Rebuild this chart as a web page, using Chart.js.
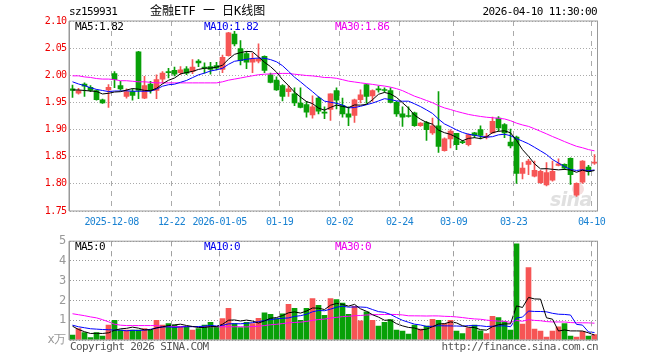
<!DOCTYPE html>
<html lang="zh">
<head>
<meta charset="UTF-8">
<title>金融ETF 日K线图</title>
<script src="https://cdn.jsdelivr.net/npm/chart.js@4.4.1/dist/chart.umd.min.js"></script>
<style>
    body { margin: 0; background: #fff; }
    #wrap { position: relative; width: 660px; height: 360px; background: #fff;
            font-family: 'DejaVu Sans Mono', monospace; font-size: 11px; letter-spacing: -0.6px; }
    .box { position: absolute; left: 0; width: 660px; }
    .txt { position: absolute; line-height: 12px; white-space: pre; }
</style>
</head>
<body>
<div id="wrap">
    <div class="box" style="top:0;height:230px"><canvas id="kline" width="660" height="230"></canvas></div>
    <div class="box" style="top:230px;height:130px"><canvas id="vol" width="660" height="130"></canvas></div>

    <div class="txt" style="left:69px;top:6px">sz159931</div>
    <div class="txt" id="title" style="left:150px;top:5px;font-family:'DejaVu Sans Mono','Noto Sans CJK SC';font-size:12px;letter-spacing:0"></div>
    <div class="txt" id="stamp" style="right:63px;top:6px"></div>

    <div class="txt" id="ma5t" style="left:75px;top:21px;color:#000"></div>
    <div class="txt" id="ma10t" style="left:204px;top:21px;color:#0000ee"></div>
    <div class="txt" id="ma30t" style="left:335px;top:21px;color:#ee00ee"></div>

    <div class="txt" id="vma5t" style="left:75px;top:241px;color:#000"></div>
    <div class="txt" id="vma10t" style="left:204px;top:241px;color:#0000ee"></div>
    <div class="txt" id="vma30t" style="left:335px;top:241px;color:#ee00ee"></div>

    <div class="txt" style="left:70px;top:341px;color:#555">Copyright 2026 SINA.COM</div>
    <div class="txt" style="right:62px;top:341px;color:#555">http://finance.sina.com.cn</div>
</div>

<script>
// ---- data ----
const dates = [
    '2025-11-27', '2025-11-28',
    '2025-12-01', '2025-12-02', '2025-12-03', '2025-12-04', '2025-12-05',
    '2025-12-08', '2025-12-09', '2025-12-10', '2025-12-11', '2025-12-12',
    '2025-12-15', '2025-12-16', '2025-12-17', '2025-12-18', '2025-12-19',
    '2025-12-22', '2025-12-23', '2025-12-24', '2025-12-25', '2025-12-26',
    '2025-12-29', '2025-12-30', '2025-12-31',
    '2026-01-05', '2026-01-06', '2026-01-07', '2026-01-08', '2026-01-09',
    '2026-01-12', '2026-01-13', '2026-01-14', '2026-01-15', '2026-01-16',
    '2026-01-19', '2026-01-20', '2026-01-21', '2026-01-22', '2026-01-23',
    '2026-01-26', '2026-01-27', '2026-01-28', '2026-01-29', '2026-01-30',
    '2026-02-02', '2026-02-03', '2026-02-04', '2026-02-05', '2026-02-06',
    '2026-02-09', '2026-02-10', '2026-02-11', '2026-02-12', '2026-02-13',
    '2026-02-24', '2026-02-25', '2026-02-26', '2026-02-27',
    '2026-03-02', '2026-03-03', '2026-03-04', '2026-03-05', '2026-03-06',
    '2026-03-09', '2026-03-10', '2026-03-11', '2026-03-12', '2026-03-13',
    '2026-03-16', '2026-03-17', '2026-03-18', '2026-03-19', '2026-03-20',
    '2026-03-23', '2026-03-24', '2026-03-25', '2026-03-26', '2026-03-27',
    '2026-03-30', '2026-03-31',
    '2026-04-01', '2026-04-02', '2026-04-03', '2026-04-07', '2026-04-08', '2026-04-09', '2026-04-10'
];

const open = [
    1.975, 1.967, 1.984, 1.978, 1.972, 1.955, 1.973, 2.003, 1.981, 1.961,
    1.970, 2.043, 1.958, 1.984, 1.972, 1.993, 2.007, 2.009, 2.005, 2.012,
    2.007, 2.026, 2.015, 2.016, 2.018, 2.011, 2.036, 2.076, 2.049, 2.040,
    2.024, 2.026, 2.035, 2.001, 1.991, 1.981, 1.970, 1.966, 1.949, 1.946,
    1.927, 1.958, 1.932, 1.937, 1.972, 1.944, 1.929, 1.926, 1.955, 1.983,
    1.962, 1.975, 1.973, 1.972, 1.950, 1.929, 1.926, 1.931, 1.907, 1.913,
    1.894, 1.907, 1.861, 1.883, 1.893, 1.878, 1.872, 1.894, 1.900, 1.886,
    1.894, 1.921, 1.909, 1.877, 1.886, 1.819, 1.836, 1.814, 1.802, 1.798,
    1.807, 1.834, 1.836, 1.847, 1.779, 1.803, 1.831, 1.838
];
const high = [
    1.982, 1.976, 1.986, 1.981, 1.973, 1.956, 1.983, 2.007, 1.989, 1.975,
    1.975, 2.044, 1.998, 1.989, 2.001, 2.007, 2.013, 2.015, 2.016, 2.016,
    2.029, 2.029, 2.023, 2.024, 2.024, 2.037, 2.079, 2.081, 2.064, 2.044,
    2.041, 2.058, 2.036, 2.004, 1.997, 1.983, 1.981, 1.977, 1.977, 1.952,
    1.962, 1.961, 1.942, 1.966, 1.977, 1.958, 1.942, 1.956, 1.973, 1.984,
    1.973, 1.980, 1.977, 1.977, 1.952, 1.942, 1.942, 1.932, 1.913, 1.915,
    1.921, 1.970, 1.885, 1.900, 1.893, 1.880, 1.892, 1.895, 1.907, 1.893,
    1.923, 1.924, 1.911, 1.901, 1.888, 1.839, 1.845, 1.842, 1.825, 1.839,
    1.842, 1.846, 1.837, 1.848, 1.802, 1.843, 1.834, 1.854
];
const low = [
    1.959, 1.965, 1.961, 1.970, 1.954, 1.948, 1.941, 1.977, 1.972, 1.958,
    1.954, 1.957, 1.957, 1.967, 1.957, 1.986, 1.995, 1.999, 2.001, 2.001,
    2.003, 2.016, 2.004, 2.002, 2.010, 2.005, 2.035, 2.054, 2.019, 2.012,
    2.005, 2.023, 2.005, 1.986, 1.972, 1.953, 1.961, 1.944, 1.940, 1.923,
    1.921, 1.929, 1.920, 1.917, 1.938, 1.923, 1.907, 1.913, 1.949, 1.948,
    1.952, 1.969, 1.969, 1.949, 1.924, 1.906, 1.923, 1.906, 1.906, 1.880,
    1.891, 1.858, 1.860, 1.866, 1.863, 1.874, 1.870, 1.885, 1.883, 1.883,
    1.893, 1.897, 1.885, 1.866, 1.801, 1.809, 1.817, 1.813, 1.801, 1.796,
    1.805, 1.833, 1.826, 1.799, 1.777, 1.801, 1.816, 1.836
];
const close = [
    1.972, 1.972, 1.980, 1.972, 1.955, 1.949, 1.978, 1.992, 1.975, 1.970,
    1.963, 1.972, 1.981, 1.972, 1.992, 2.004, 2.005, 2.002, 2.010, 2.004,
    2.015, 2.023, 2.013, 2.011, 2.013, 2.033, 2.078, 2.058, 2.027, 2.024,
    2.030, 2.030, 2.009, 1.987, 1.973, 1.961, 1.975, 1.949, 1.941, 1.932,
    1.942, 1.934, 1.930, 1.966, 1.954, 1.929, 1.923, 1.955, 1.964, 1.961,
    1.972, 1.973, 1.972, 1.950, 1.929, 1.923, 1.924, 1.907, 1.912, 1.900,
    1.907, 1.869, 1.883, 1.897, 1.872, 1.876, 1.891, 1.889, 1.889, 1.888,
    1.915, 1.903, 1.894, 1.870, 1.819, 1.829, 1.842, 1.825, 1.823, 1.821,
    1.823, 1.837, 1.829, 1.817, 1.801, 1.842, 1.823, 1.840
];
// volume, 万
const volume = [
    0.25, 0.58, 0.37, 0.12, 0.38, 0.2, 0.75, 1.0, 0.5, 0.5,
    0.5, 0.5, 0.58, 0.5, 1.0, 0.75, 0.83, 0.75, 0.67, 0.67,
    0.5, 0.58, 0.75, 0.9, 0.67, 1.08, 1.6, 0.83, 0.63, 0.9,
    0.83, 1.1, 1.37, 1.3, 1.08, 1.33, 1.8, 1.6, 1.0, 1.6,
    2.1, 1.75, 1.25, 2.1, 2.05, 1.87, 1.3, 1.7, 0.97, 1.42,
    1.0, 0.7, 0.9, 1.03, 0.5, 0.45, 0.3, 0.75, 0.55, 0.7,
    1.05, 1.0, 0.83, 1.0, 0.45, 0.33, 0.62, 0.75, 0.47, 0.33,
    1.2, 1.13, 0.93, 0.5, 4.87, 0.8, 3.67, 0.55, 0.45, 0.15,
    0.45, 0.67, 0.83, 0.2, 0.15, 0.42, 0.2, 0.28
];

// moving-average values at the left edge (their windows start before the first day shown)
const ma5Head = [1.973, 1.973, 1.972, 1.971];
const ma10Head = [1.988, 1.984, 1.981, 1.977, 1.974, 1.972, 1.970, 1.971, 1.971];
const ma30Head = [
    1.999, 1.999, 1.997, 1.996, 1.994, 1.993, 1.993, 1.992, 1.990, 1.990,
    1.989, 1.988, 1.988, 1.987, 1.986, 1.986, 1.986, 1.986, 1.986, 1.986,
    1.986, 1.986, 1.986, 1.986, 1.986, 1.988, 1.991, 1.993, 1.995
];
const vma5Head = [0.7, 0.53, 0.42, 0.33];
const vma10Head = [0.75, 0.67, 0.62, 0.57, 0.55, 0.53, 0.52, 0.5, 0.5];
const vma30Head = [
    1.33, 1.28, 1.23, 1.17, 1.12, 1.03, 0.92, 0.8, 0.75, 0.73,
    0.73, 0.73, 0.73, 0.73, 0.73, 0.68, 0.68, 0.68, 0.68, 0.68,
    0.68, 0.67, 0.67, 0.67, 0.67, 0.67, 0.67, 0.67, 0.67
];

const tickDates = ['2025-12-08', '2025-12-22', '2026-01-05', '2026-01-19', '2026-02-02',
                   '2026-02-24', '2026-03-09', '2026-03-23', '2026-04-10'];
const tickText = ['2025-12-08', '12-22', '2026-01-05', '01-19', '02-02',
                  '02-24', '03-09', '03-23', '04-10'];
const priceTicks = [1.75, 1.80, 1.85, 1.90, 1.95, 2.00, 2.05, 2.10];
const volTicks = [0, 1, 2, 3, 4, 5];

const titleText = '金融ETF 一 日K线图';
const stampText = '2026-04-10 11:30:00';
const maText = ['MA5:1.82', 'MA10:1.82', 'MA30:1.86'];
const vmaText = ['MA5:0', 'MA10:0', 'MA30:0'];

// ---- helpers ----
const RED = '#f65555', GREEN = '#08a008';
const MONO = "'DejaVu Sans Mono', monospace";

function movingAvg(arr, n, head) {
    return arr.map(function (v, i) {
        if (i < n - 1) return head[i];
        var s = 0;
        for (var k = i - n + 1; k <= i; k++) s += arr[k];
        return s / n;
    });
}

var tickIdx = tickDates.map(function (d) { return dates.indexOf(d); });
var tickMap = {};
tickIdx.forEach(function (i, k) { tickMap[i] = tickText[k]; });

var upDown = close.map(function (c, i) { return c >= open[i] ? RED : GREEN; });
var wicks = low.map(function (l, i) { return [l, high[i]]; });
var bodies = open.map(function (o, i) { return [Math.min(o, close[i]), Math.max(o, close[i])]; });

document.getElementById('title').textContent = titleText;
document.getElementById('stamp').textContent = stampText;
document.getElementById('ma5t').textContent = maText[0];
document.getElementById('ma10t').textContent = maText[1];
document.getElementById('ma30t').textContent = maText[2];
document.getElementById('vma5t').textContent = vmaText[0];
document.getElementById('vma10t').textContent = vmaText[1];
document.getElementById('vma30t').textContent = vmaText[2];

// frame around the plot, plus the date lines for panels whose x grid is not shown
function framePlugin(withDateLines) {
    return {
        id: 'frame',
        afterDraw(chart) {
            const a = chart.chartArea, c = chart.ctx, xs = chart.scales.x;
            c.save();
            c.lineWidth = 1;
            if (withDateLines) {
                c.strokeStyle = '#a0a0a0';
                c.setLineDash([5, 5]);
                tickIdx.forEach(function (i) {
                    const x = Math.floor(xs.getPixelForValue(i) - 3) + 0.5;
                    c.beginPath();
                    c.moveTo(x, a.top);
                    c.lineTo(x, a.bottom);
                    c.stroke();
                });
                c.setLineDash([]);
            }
            c.strokeStyle = '#999';
            c.strokeRect(a.left, a.top, a.right - a.left, a.bottom - a.top);
            c.beginPath();
            c.moveTo(a.left - 0.5, a.top);
            c.lineTo(a.left - 0.5, a.bottom);
            c.stroke();
            c.restore();
        }
    };
}

const watermark = {
    id: 'watermark',
    beforeDatasetsDraw(chart) {
        const c = chart.ctx;
        c.save();
        c.fillStyle = '#f5dede';
        c.beginPath();
        c.arc(578, 189, 6, 0, Math.PI * 2);
        c.fill();
        c.fillStyle = '#e0e0e0';
        c.font = "italic bold 19px 'DejaVu Sans'";
        c.fillText('sina', 550, 206);
        c.restore();
    }
};

function xScale(showLabels) {
    return {
        type: 'category',
        offset: true,
        afterFit: function (s) { s.height = showLabels ? 19 : 1; },
        ticks: {
            autoSkip: false,
            maxRotation: 0,
            padding: 5,
            labelOffset: -3,
            color: '#1a82d2',
            font: { family: MONO, size: 10 },
            callback: function (v, i) { return showLabels ? (tickMap[i] || '') : ''; }
        },
        grid: {
            offset: true,
            drawTicks: false,
            color: function (c) { return tickMap[c.index] ? '#aaa' : 'rgba(0,0,0,0)'; }
        },
        border: { display: false, dash: [5, 5] }
    };
}

Chart.defaults.animation = false;

new Chart(document.getElementById('kline'), {
    type: 'bar',
    data: {
        labels: dates,
        datasets: [
            { type: 'line', data: movingAvg(close, 5, ma5Head), borderColor: '#000', borderWidth: 1, pointRadius: 0, order: 0 },
            { type: 'line', data: movingAvg(close, 10, ma10Head), borderColor: '#0000ff', borderWidth: 1, pointRadius: 0, order: 0 },
            { type: 'line', data: movingAvg(close, 30, ma30Head), borderColor: '#ff00ff', borderWidth: 1, pointRadius: 0, order: 0 },
            { data: bodies, backgroundColor: upDown, barThickness: 5, minBarLength: 1, grouped: false, order: 1 },
            { data: wicks, backgroundColor: upDown, barThickness: 1, grouped: false, order: 2 }
        ]
    },
    options: {
        responsive: false,
        devicePixelRatio: 1,
        layout: { padding: { top: 21, right: 62.5, left: 0, bottom: 0 } },
        plugins: { legend: { display: false }, tooltip: { enabled: false } },
        scales: {
            x: xScale(true),
            y: {
                min: 1.75,
                max: 2.10,
                afterFit: function (s) { s.width = 69.5; },
                afterBuildTicks: function (s) { s.ticks = priceTicks.map(function (v) { return { value: v }; }); },
                ticks: {
                    padding: 3,
                    color: '#ee0000',
                    font: { family: MONO, size: 10 },
                    callback: function (v) { return v.toFixed(2); }
                },
                grid: { color: '#aaa', drawTicks: false },
                border: { display: false, dash: [1, 2] }
            }
        }
    },
    plugins: [framePlugin(false), watermark]
});

new Chart(document.getElementById('vol'), {
    type: 'bar',
    data: {
        labels: dates,
        datasets: [
            { type: 'line', data: movingAvg(volume, 5, vma5Head), borderColor: '#000', borderWidth: 1, pointRadius: 0, order: 0 },
            { type: 'line', data: movingAvg(volume, 10, vma10Head), borderColor: '#0000ff', borderWidth: 1, pointRadius: 0, order: 0 },
            { type: 'line', data: movingAvg(volume, 30, vma30Head), borderColor: '#ff00ff', borderWidth: 1, pointRadius: 0, order: 0 },
            { data: volume, backgroundColor: upDown, barThickness: 5, grouped: false, order: 1 }
        ]
    },
    options: {
        responsive: false,
        devicePixelRatio: 1,
        layout: { padding: { top: 10, right: 62.5, left: 0, bottom: 19 } },
        plugins: { legend: { display: false }, tooltip: { enabled: false } },
        scales: {
            x: xScale(false),
            y: {
                min: 0,
                max: 5,
                afterFit: function (s) { s.width = 69.5; },
                afterBuildTicks: function (s) { s.ticks = volTicks.map(function (v) { return { value: v }; }); },
                ticks: {
                    padding: 4,
                    color: '#999',
                    font: { family: MONO, size: 12 },
                    callback: function (v) { return v === 0 ? 'x万' : String(v); }
                },
                grid: { color: '#999', drawTicks: false },
                border: { display: false, dash: [1, 2] }
            }
        }
    },
    plugins: [framePlugin(true)]
});
</script>
</body>
</html>
